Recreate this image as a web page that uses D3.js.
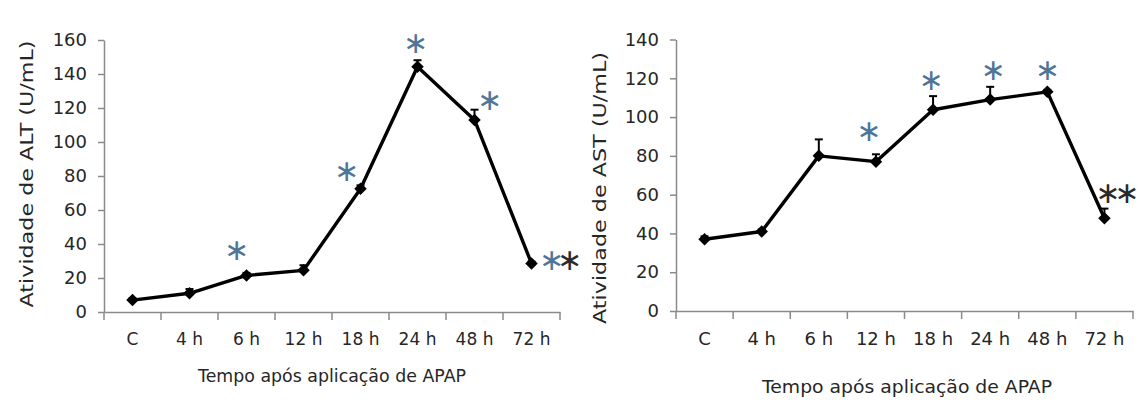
<!DOCTYPE html>
<html><head><meta charset="utf-8">
<script src="https://cdn.jsdelivr.net/npm/d3@7"></script>
<style>body{margin:0;background:#fff} svg{display:block}</style>
</head><body><svg id="c" width="1139" height="416"></svg>
<script>
// ---------- data ----------
const categories = ["C", "4 h", "6 h", "12 h", "18 h", "24 h", "48 h", "72 h"];
const altMean = [7, 11, 21.5, 24.5, 72.5, 144.3, 113, 28.6];
const altErr  = [1, 2.5, 1.5, 3, 2, 3.8, 6, 1];
const astMean = [37, 41, 80, 77, 103.8, 109, 113, 47.8];
const astErr  = [1.5, 1, 8.5, 3.8, 7, 6.6, 1, 5];
const altTicks = [0, 20, 40, 60, 80, 100, 120, 140, 160];
const astTicks = [0, 20, 40, 60, 80, 100, 120, 140];
// significance marks: category, level (in axis units), colour of each asterisk
const altStarCats = ["6 h", "18 h", "24 h", "48 h", "72 h"];
const altStarLevels = [36.6, 83, 158.4, 125, 31];
const altStarKinds = [["blue"], ["blue"], ["blue"], ["blue"], ["blue", "black"]];
const astStarCats = ["12 h", "18 h", "24 h", "48 h", "72 h"];
const astStarLevels = [93, 119.4, 124.6, 124.6, 61];
const astStarKinds = [["blue"], ["blue"], ["blue"], ["blue"], ["black", "black"]];
const altYTitle = "Atividade de ALT (U/mL)";
const astYTitle = "Atividade de AST (U/mL)";
const xTitle = "Tempo após aplicação de APAP";

// ---------- drawing ----------
const svg = d3.select("#c");
svg.append("rect").attr("width", 1139).attr("height", 416).attr("fill", "#fff");
const defs = svg.append("defs");
const AXIS = "#8a8a8a", TXT = "#262626", BLUE = "#4f7597", BLACK = "#2a2a2a";
const STAR = "∗", STAR_FS = 30;
let gradId = 0;

// advance width of one asterisk
const probe = svg.append("text").attr("font-family", "DejaVu Sans").attr("font-size", STAR_FS).text(STAR);
const ADV = probe.node().getComputedTextLength();
probe.remove();

function panel(o) {
  const g = svg.append("g");
  const x = d3.scaleBand().domain(categories).range([o.x0, o.x1]).padding(0);
  const y = d3.scaleLinear().domain([0, o.max]).range([o.y0, o.y1]);
  const cx = c => x(c) + x.bandwidth() / 2;

  // y axis
  const ya = g.append("g").attr("transform", `translate(${o.x0},0)`)
    .call(d3.axisLeft(y).tickValues(o.ticks).tickSizeInner(6).tickSizeOuter(0).tickPadding(11));
  ya.select(".domain").attr("stroke", AXIS).attr("stroke-width", 1.5);
  ya.selectAll(".tick line").attr("stroke", AXIS).attr("stroke-width", 1.5);
  ya.selectAll(".tick text").attr("font-family", "DejaVu Sans").attr("font-size", 18).attr("fill", TXT);

  // x axis
  const xa = g.append("g").attr("transform", `translate(0,${o.y0})`)
    .call(d3.axisBottom(x).tickSizeInner(0).tickSizeOuter(0).tickPadding(21));
  xa.select(".domain").attr("stroke", AXIS).attr("stroke-width", 1.5);
  xa.selectAll(".tick text").attr("font-family", "DejaVu Sans").attr("font-size", o.xFont).attr("fill", TXT);
  const bounds = d3.range(categories.length + 1).map(i => o.x0 + i * x.step());
  xa.selectAll("line.b").data(bounds).join("line").attr("class", "b")
    .attr("x1", d => d).attr("x2", d => d).attr("y1", 0).attr("y2", 8)
    .attr("stroke", AXIS).attr("stroke-width", 1.5);

  // error bars
  const eb = g.append("g").attr("stroke", "#000").attr("stroke-width", 2);
  categories.forEach((c, i) => {
    const top = y(o.mean[i] + o.err[i]);
    eb.append("line").attr("x1", cx(c)).attr("x2", cx(c)).attr("y1", y(o.mean[i])).attr("y2", top);
    eb.append("line").attr("x1", cx(c) - 4).attr("x2", cx(c) + 4).attr("y1", top).attr("y2", top);
  });

  // line
  g.append("path").datum(o.mean)
    .attr("d", d3.line().x((d, i) => cx(categories[i])).y(d => y(d)))
    .attr("fill", "none").attr("stroke", "#000").attr("stroke-width", 3.4).attr("stroke-linejoin", "round");

  // markers
  g.selectAll("path.m").data(o.mean).join("path").attr("class", "m")
    .attr("d", d3.symbol(d3.symbolSquare, 78)())
    .attr("transform", (d, i) => `translate(${cx(categories[i])},${y(d)}) rotate(45)`)
    .attr("fill", "#000");

  // significance stars: one text per annotation
  o.starCats.forEach((c, i) => {
    const kinds = o.starKinds[i];
    const n = kinds.length;
    const target = cx(c) + o.starDx[i];
    const ls = n > 1 ? o.starGap - ADV : 0;
    const step = ADV + ls;
    const t = g.append("text").text(STAR.repeat(n))
      .attr("font-family", "DejaVu Sans").attr("font-size", STAR_FS)
      .attr("letter-spacing", ls)
      .attr("x", target - ADV / 2 - (n - 1) * step / 2)
      .attr("y", y(o.starLevels[i]));
    let fill;
    if (kinds.every(k => k === kinds[0])) {
      fill = kinds[0] === "blue" ? BLUE : BLACK;
    } else {
      const id = "sg" + (gradId++);
      const lg = defs.append("linearGradient").attr("id", id)
        .attr("gradientUnits", "userSpaceOnUse")
        .attr("x1", target - 1).attr("x2", target + 1).attr("y1", 0).attr("y2", 0);
      lg.append("stop").attr("offset", "50%").attr("stop-color", kinds[0] === "blue" ? BLUE : BLACK);
      lg.append("stop").attr("offset", "50%").attr("stop-color", kinds[1] === "blue" ? BLUE : BLACK);
      fill = `url(#${id})`;
    }
    t.attr("fill", fill);
    const b = t.node().getBBox();
    t.attr("y", y(o.starLevels[i]) - (b.y + b.height / 2 - y(o.starLevels[i])));
  });

  // y title
  g.append("text").text(o.yTitle)
    .attr("transform", `translate(${o.yTitleX},${o.yTitleY}) rotate(-90)`)
    .attr("text-anchor", "middle").attr("font-family", "DejaVu Sans").attr("font-size", 18)
    .attr("fill", TXT).attr("textLength", o.yTitleLen).attr("lengthAdjust", "spacingAndGlyphs");

  // x title
  g.append("text").text(xTitle)
    .attr("x", o.xTitleX).attr("y", o.xTitleY)
    .attr("text-anchor", "middle").attr("font-family", "DejaVu Sans").attr("font-size", 17)
    .attr("fill", TXT).attr("textLength", o.xTitleLen).attr("lengthAdjust", "spacingAndGlyphs");
}

panel({
  x0: 104, x1: 560, y0: 312, y1: 40, max: 160, ticks: altTicks, xFont: 17,
  mean: altMean, err: altErr,
  starCats: altStarCats, starLevels: altStarLevels, starKinds: altStarKinds,
  starDx: [-10, -14, -2, 15, 29], starGap: 18,
  yTitle: altYTitle, yTitleX: 33, yTitleY: 174, yTitleLen: 267,
  xTitleX: 332, xTitleY: 382, xTitleLen: 268
});
panel({
  x0: 676, x1: 1133, y0: 311, y1: 39.5, max: 140, ticks: astTicks, xFont: 18,
  mean: astMean, err: astErr,
  starCats: astStarCats, starLevels: astStarLevels, starKinds: astStarKinds,
  starDx: [-7, -2, 3, 0, 13], starGap: 19,
  yTitle: astYTitle, yTitleX: 606, yTitleY: 188, yTitleLen: 272,
  xTitleX: 907, xTitleY: 393, xTitleLen: 290
});
</script></body></html>
